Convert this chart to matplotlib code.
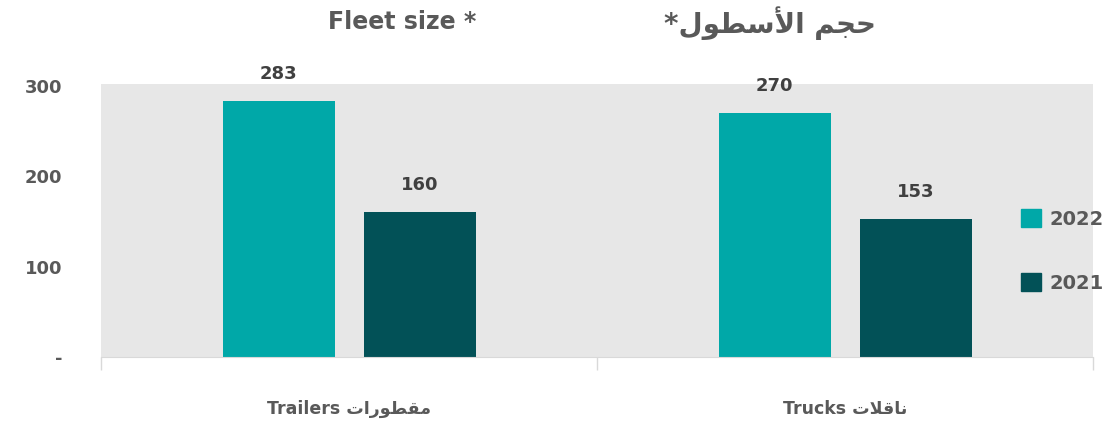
import numpy as np
import matplotlib.pyplot as plt
from matplotlib.patches import Patch

# data
categories = ['Trailers', 'Trucks']
# Arabic written as presentation forms in visual (left-to-right) order
cat_labels = ['Trailers \ufe95\ufe8d\ufead\ufeee\ufec4\ufed8\ufee3',
              'Trucks \ufe95\ufefc\ufed7\ufe8e\ufee7']
years = ['2022', '2021']
v2022 = [283, 270]
v2021 = [160, 153]
yticks = [0, 100, 200, 300]
ytick_labels = ['-', '100', '200', '300']

title_en = 'Fleet size *'
title_ar = '*\ufedd\ufeee\ufec4\ufeb3\ufef7\ufe8d \ufee2\ufea0\ufea3'

c2022 = '#00A8A8'
c2021 = '#025157'
grey_txt = '#595959'

fig = plt.figure(figsize=(11.07, 4.21), dpi=100)
ax = fig.add_axes([101/1107, 64/421, 992/1107, 273/421])
ax.set_facecolor('#E7E7E7')

x = np.arange(len(categories))
w = 0.226
b1 = ax.bar(x - 0.142, v2022, w, color=c2022, label=years[0])
b2 = ax.bar(x + 0.143, v2021, w, color=c2021, label=years[1])
ax.bar_label(b1, padding=13, fontsize=13, fontweight='bold', color='#404040')
ax.bar_label(b2, padding=13, fontsize=13, fontweight='bold', color='#404040')

ax.set_xlim(-0.5, 1.5)
ax.set_ylim(0, 302)
ax.set_yticks(yticks)
ax.set_yticklabels(ytick_labels)
ax.tick_params(axis='y', length=0, pad=28, labelsize=13, labelcolor=grey_txt)
for t in ax.get_yticklabels():
    t.set_fontweight('bold')

ax.set_xticks([-0.5, 0.5, 1.5])
ax.set_xticklabels([])
ax.tick_params(axis='x', length=9, color='#D9D9D9', width=1)
for i, lab in enumerate(cat_labels):
    ax.text(x[i], -0.19, lab, transform=ax.get_xaxis_transform(), ha='center',
            va='center', fontsize=12.5, fontweight='bold', color=grey_txt,
            family='DejaVu Sans')

for s in ['top', 'right', 'left']:
    ax.spines[s].set_visible(False)
ax.spines['bottom'].set_color('#D9D9D9')

fig.text(402/1107, 1 - 22/421, title_en, ha='center', va='center',
         fontsize=17, fontweight='bold', color=grey_txt)
fig.text(770/1107, 1 - 23/421, title_ar, ha='center', va='center',
         fontsize=20, fontweight='bold', color=grey_txt, family='DejaVu Sans')

handles = [Patch(color=c2022), Patch(color=c2021)]
fig.legend(handles, years, loc='center left', bbox_to_anchor=(1003/1107, 1 - 251/421),
           frameon=False, labelcolor=grey_txt, handlelength=1.05,
           handleheight=1.05, labelspacing=2.3, handletextpad=0.45,
           prop={'weight': 'bold', 'size': 14})

fig.savefig('out.png', dpi=100)
